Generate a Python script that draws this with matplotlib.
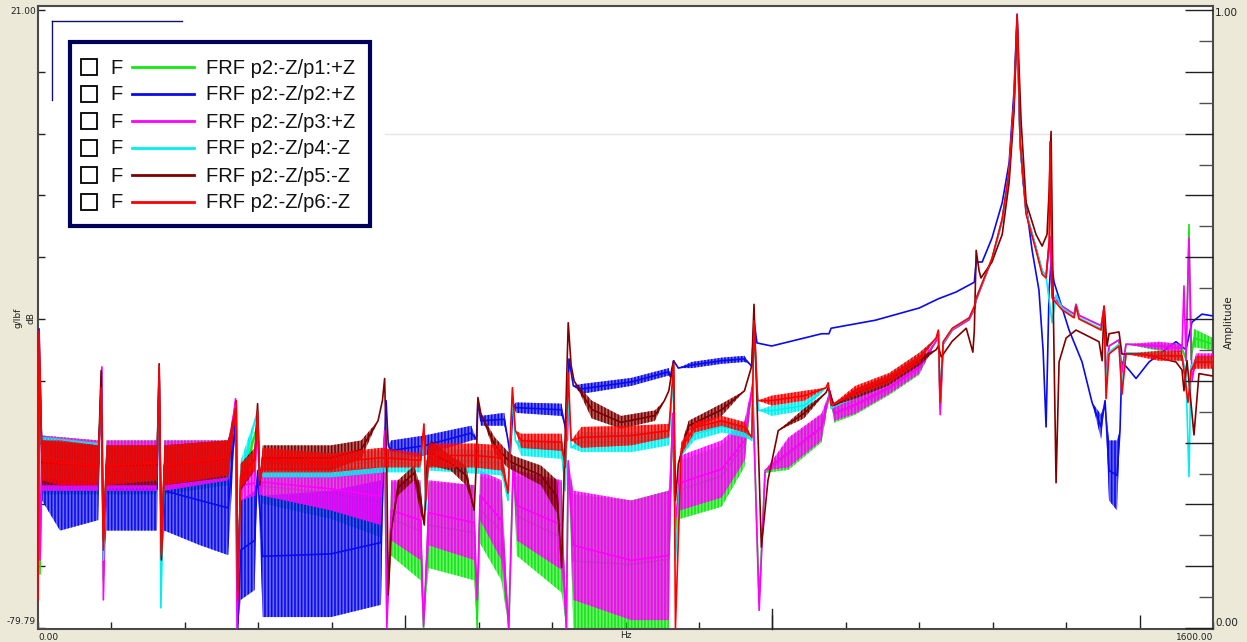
import matplotlib
matplotlib.use("Agg")
import matplotlib.pyplot as plt
from matplotlib.patches import Rectangle
from matplotlib.colors import to_rgba

W, H = 1247, 642

series_names = ["FRF p2:-Z/p1:+Z", "FRF p2:-Z/p2:+Z", "FRF p2:-Z/p3:+Z",
                "FRF p2:-Z/p4:-Z", "FRF p2:-Z/p5:-Z", "FRF p2:-Z/p6:-Z"]
series_colors = ["#12E812", "#0A0AF0", "#FF00FF", "#00F0F0", "#800000", "#FF0000"]

# each point: (Hz, upper dB, lower dB) - the band is the noise spread
p1_pts = [
    (0, -62.0, -62.0), (1.4, -36.0, -36.0), (2.7, -71.0, -71.0), (5.5, -48.4, -58.0),
    (82, -49.2, -58.0), (87, -38.0, -38.0), (89, -72.0, -72.0), (93, -49.2, -58.0),
    (162, -49.2, -58.0), (165, -38.5, -38.5), (168, -66.0, -66.0), (172, -49.2, -58.0),
    (259, -49.2, -56.5), (269, -43.0, -43.0), (271, -77.0, -77.0), (276, -54.1, -60.0),
    (299, -46.5, -46.5), (302, -58.0, -58.0), (306, -53.8, -59.5), (399, -53.6, -62.0),
    (467, -53.6, -65.0), (472, -48.5, -48.5), (475, -78.0, -78.0), (481, -56.0, -68.0),
    (521, -56.0, -72.0), (525, -79.8, -79.8), (532, -56.0, -70.0), (594, -56.5, -72.0),
    (598, -79.8, -79.8), (602, -55.0, -66.0), (631, -56.0, -72.0), (641, -79.8, -79.8),
    (647, -54.0, -54.0), (652, -55.0, -68.0), (713, -56.0, -74.0), (719.5, -79.8, -79.8),
    (722, -53.0, -53.0), (729, -58.0, -79.8), (808, -59.0, -79.8), (859, -57.4, -79.8),
    (864, -45.5, -45.5), (868, -64.0, -64.0), (874, -52.5, -62.0), (931, -50.0, -60.0),
    (962, -46.5, -53.5), (973, -40.5, -40.5), (982, -75.5, -75.5), (990, -54.5, -54.5),
    (1022, -49.0, -54.0), (1067, -45.0, -49.5), (1078.5, -41.5, -41.5), (1084, -43.8, -46.3),
    (1113, -42.2, -45.0), (1159, -39.8, -41.8), (1200, -36.4, -38.5), (1223, -33.0, -33.0),
    (1226, -31.5, -31.5), (1228.5, -44.0, -44.0), (1232.6, -33.5, -33.5), (1245, -31.2, -31.2),
    (1268, -29.5, -29.5), (1275, -27.8, -27.8), (1277.5, -26.3, -26.3), (1299, -19.7, -19.7),
    (1313, -13.3, -13.3), (1322.4, -5.5, -5.5), (1329, 5.5, 5.5), (1333.3, 19.0, 19.0),
    (1337.4, -1.0, -1.0), (1345.5, -12.0, -12.0), (1359, -17.8, -17.8), (1367.3, -21.6, -21.6),
    (1372.7, -22.4, -22.4), (1378, -16.0, -16.0), (1381, -25.6, -25.6), (1394.5, -27.3, -27.3),
    (1410.8, -28.6, -28.6), (1413.5, -27.0, -27.0), (1417.6, -28.8, -28.8), (1447.6, -30.5, -30.5),
    (1451.7, -27.5, -27.5), (1454.4, -39.0, -39.0), (1458.4, -33.8, -33.8), (1472, -32.8, -32.8),
    (1476, -38.0, -38.0), (1481.6, -33.5, -33.5), (1526.5, -33.3, -34.6), (1557.8, -33.5, -34.8),
    (1563.2, -36.0, -36.0), (1567.3, -14.0, -14.0), (1570, -36.0, -36.0), (1574.1, -31.0, -34.0),
    (1600, -32.5, -34.5),
]

p2_pts = [
    (0, -73.6, -73.6), (1.4, -31.0, -31.0), (5.5, -48.4, -59.0), (30, -49.2, -63.9),
    (82, -50.0, -62.2), (86, -39.5, -39.5), (89, -68.7, -68.7), (93, -50.4, -63.9),
    (162, -50.4, -63.9), (165, -38.7, -38.7), (168, -68.7, -68.7), (172, -50.9, -63.9),
    (221, -51.7, -66.3), (259, -52.5, -67.9), (269, -46.0, -46.0), (272, -79.8, -79.8),
    (276, -59.0, -75.2), (295, -57.4, -73.6), (299, -54.1, -54.1), (306, -58.2, -78.0),
    (399, -57.4, -78.0), (467, -55.7, -76.0), (471, -52.5, -52.5), (474, -42.7, -42.7),
    (477, -50.0, -50.0), (481, -49.2, -52.5), (526, -48.4, -51.7), (590, -46.8, -49.2),
    (597, -49.0, -49.0), (599, -42.7, -42.7), (603, -45.2, -46.8), (635, -44.7, -46.8),
    (640, -49.2, -49.2), (643, -51.7, -51.7), (647, -43.5, -43.5), (651, -43.0, -44.7),
    (713, -43.2, -45.2), (718, -47.1, -47.1), (720.8, -49.2, -49.2), (723, -35.9, -35.9),
    (729, -40.3, -40.3), (740, -40.0, -41.6), (808, -39.0, -40.3), (859, -37.4, -38.6),
    (861, -38.8, -38.8), (865.5, -36.2, -36.2), (872, -37.4, -37.4), (890, -36.4, -37.4),
    (931, -35.7, -36.7), (962, -35.4, -36.4), (969, -36.7, -36.7), (972, -37.2, -37.2),
    (975, -29.7, -29.7), (979, -33.3, -33.3), (999, -33.8, -33.8), (1067, -31.8, -31.8),
    (1077, -31.8, -31.8), (1080, -30.9, -30.9), (1140, -29.6, -29.6), (1200, -27.6, -27.6),
    (1226, -26.1, -26.1), (1250, -25.0, -25.0), (1275, -23.4, -23.4), (1277.5, -20.1, -20.1),
    (1285.7, -20.1, -20.1), (1299, -16.2, -16.2), (1313, -10.4, -10.4), (1322.4, -3.9, -3.9),
    (1329, 7.7, 7.7), (1333.3, 20.3, 20.3), (1337.4, -0.5, -0.5), (1341.4, -7.1, -7.1),
    (1353.7, -18.2, -18.2), (1363, -24.7, -24.7), (1368.7, -34.6, -34.6), (1372.7, -47.0, -47.0),
    (1376.8, -24.8, -24.8), (1379.5, -20.0, -20.0), (1383.6, -23.4, -23.4), (1404, -31.2, -31.2),
    (1421.7, -36.4, -36.4), (1435.3, -43.0, -43.0), (1447.6, -45.0, -49.0), (1453, -42.7, -42.7),
    (1458.4, -49.2, -59.0), (1469.3, -49.2, -60.6), (1473.4, -47.5, -47.5), (1476, -36.4, -36.4),
    (1485.7, -37.7, -37.7), (1495.2, -39.1, -39.1), (1512.9, -36.4, -36.4), (1549.6, -33.1, -33.1),
    (1563.2, -34.4, -34.4), (1571.4, -29.9, -29.9), (1585, -28.6, -28.6), (1600, -28.9, -28.9),
]

p3_pts = [
    (0, -59.0, -59.0), (1.4, -36.2, -36.2), (2.7, -68.7, -68.7), (5.5, -48.4, -57.4),
    (82, -49.2, -57.4), (87, -37.2, -37.2), (89, -75.2, -75.2), (93, -49.2, -57.4),
    (162, -49.2, -57.4), (165, -38.7, -38.7), (168, -67.1, -67.1), (172, -49.2, -57.4),
    (259, -49.2, -55.7), (269, -42.4, -42.4), (271, -79.8, -79.8), (276, -54.1, -59.0),
    (295, -54.1, -58.2), (299, -46.0, -46.0), (302, -58.0, -58.0), (306, -53.8, -58.2),
    (399, -53.6, -60.6), (467, -53.6, -63.0), (472, -47.6, -47.6), (475, -79.8, -79.8),
    (481, -55.7, -65.5), (521, -55.7, -68.7), (525, -79.5, -79.5), (532, -55.7, -66.3),
    (594, -56.5, -68.7), (598, -75.2, -75.2), (602, -54.1, -62.2), (631, -55.7, -68.7),
    (641, -79.8, -79.8), (647, -53.3, -53.3), (652, -54.1, -65.5), (713, -55.7, -70.3),
    (719.5, -79.8, -79.8), (722, -52.5, -52.5), (729, -57.4, -75.2), (808, -59.0, -78.5),
    (859, -57.4, -78.5), (864, -44.8, -44.8), (868, -62.2, -62.2), (874, -51.7, -60.6),
    (931, -49.2, -58.5), (962, -46.0, -52.5), (973, -40.0, -40.0), (982, -76.9, -76.9),
    (990, -54.1, -54.1), (1022, -48.7, -53.6), (1067, -44.8, -49.2), (1078.5, -41.1, -41.1),
    (1084, -43.5, -46.0), (1113, -41.9, -44.8), (1159, -39.5, -41.6), (1200, -36.2, -38.3),
    (1223, -33.0, -33.0), (1226, -31.5, -31.5), (1228.5, -45.0, -45.0), (1232.6, -33.5, -33.5),
    (1245, -31.2, -31.2), (1268, -29.5, -29.5), (1275, -27.8, -27.8), (1277.5, -26.3, -26.3),
    (1299, -19.7, -19.7), (1313, -13.3, -13.3), (1322.4, -5.5, -5.5), (1329, 5.5, 5.5),
    (1333.3, 19.0, 19.0), (1337.4, -1.0, -1.0), (1345.5, -12.0, -12.0), (1359, -17.8, -17.8),
    (1367.3, -21.6, -21.6), (1372.7, -22.4, -22.4), (1378, -16.0, -16.0), (1381, -25.6, -25.6),
    (1394.5, -27.3, -27.3), (1410.8, -28.6, -28.6), (1413.5, -27.0, -27.0), (1417.6, -28.8, -28.8),
    (1447.6, -30.5, -30.5), (1451.7, -27.5, -27.5), (1454.4, -39.0, -39.0), (1458.4, -33.8, -33.8),
    (1472, -32.8, -32.8), (1476, -38.0, -38.0), (1481.6, -33.5, -33.5), (1526.5, -33.1, -34.4),
    (1557.8, -33.5, -34.8), (1560.5, -24.0, -24.0), (1563.2, -36.2, -36.2), (1567.3, -16.2, -16.2),
    (1571.4, -39.5, -39.5), (1576.8, -35.0, -36.5), (1600, -35.0, -36.5),
]

p4_pts = [
    (0, -68.7, -68.7), (1.4, -34.6, -34.6), (5.5, -48.6, -55.4), (82, -49.6, -56.0),
    (86, -38.7, -38.7), (89, -68.7, -68.7), (93, -50.0, -56.0), (162, -50.0, -56.0),
    (165, -37.8, -37.8), (167.3, -76.5, -76.5), (172, -50.0, -56.0), (259, -49.6, -55.2),
    (270, -43.5, -43.5), (272, -73.6, -73.6), (276, -52.5, -57.4), (299, -44.3, -44.3),
    (302, -55.0, -55.0), (306, -50.6, -55.2), (399, -51.2, -55.2), (472, -50.8, -54.4),
    (521, -51.9, -54.4), (525.6, -47.6, -47.6), (528, -60.6, -60.6), (532, -50.4, -54.1),
    (631, -50.9, -54.9), (640, -59.0, -59.0), (646, -41.9, -41.9), (650, -49.2, -49.2),
    (658, -49.2, -51.7), (713, -49.2, -52.2), (718, -57.4, -57.4), (722, -41.1, -41.1),
    (726, -50.4, -50.4), (740, -47.8, -51.1), (808, -47.8, -51.1), (859, -47.6, -50.0),
    (865.5, -38.7, -38.7), (868, -68.7, -68.7), (876, -51.7, -51.7), (894, -47.1, -49.2),
    (931, -46.0, -47.9), (962, -46.5, -48.7), (972, -49.2, -49.2), (975, -31.3, -31.3),
    (981, -44.3, -44.3), (999, -43.5, -45.2), (1044, -42.7, -44.3), (1076, -40.3, -40.3),
    (1080, -44.0, -44.0), (1112, -40.8, -42.4), (1157, -38.5, -40.1), (1200, -34.9, -36.5),
    (1223, -32.5, -32.5), (1226, -31.7, -31.7), (1228.5, -42.0, -42.0), (1232.6, -33.3, -33.3),
    (1245, -31.0, -31.0), (1268, -29.2, -29.2), (1275, -27.5, -27.5), (1277.5, -26.0, -26.0),
    (1299, -19.7, -19.7), (1313, -13.2, -13.2), (1322.4, -5.5, -5.5), (1329, 5.5, 5.5),
    (1333.3, 19.0, 19.0), (1337.4, -1.0, -1.0), (1345.5, -12.0, -12.0), (1359, -17.8, -17.8),
    (1367.3, -21.5, -21.5), (1372.7, -22.5, -22.5), (1381, -30.0, -30.0), (1386.3, -25.5, -25.5),
    (1394.5, -27.6, -27.6), (1410.8, -29.0, -29.0), (1413.5, -27.5, -27.5), (1417.6, -29.2, -29.2),
    (1447.6, -31.0, -31.0), (1451.7, -27.8, -27.8), (1454.4, -40.0, -40.0), (1458.4, -34.8, -34.8),
    (1472, -33.5, -33.5), (1476, -40.5, -40.5), (1481.6, -34.9, -34.9), (1526.5, -34.6, -35.8),
    (1557.8, -35.0, -36.2), (1563, -38.0, -38.0), (1567.3, -55.1, -55.1), (1570, -37.0, -37.0),
    (1576.8, -35.6, -37.0), (1600, -35.6, -37.0),
]

p5_pts = [
    (0, -68.7, -68.7), (1.4, -33.0, -33.0), (5.5, -49.2, -56.5), (82, -50.0, -56.5),
    (86, -37.8, -37.8), (89, -65.5, -65.5), (93, -50.0, -56.5), (162, -50.0, -56.5),
    (165, -36.7, -36.7), (168, -68.7, -68.7), (172, -50.0, -56.5), (259, -49.2, -55.2),
    (268, -44.3, -46.0), (270, -43.5, -43.5), (272, -73.6, -73.6), (276, -53.0, -57.4),
    (295, -50.4, -54.1), (299, -43.2, -43.2), (302, -56.5, -56.5), (306, -50.0, -54.1),
    (399, -50.0, -54.1), (440, -49.2, -52.2), (463, -46.0, -46.0), (469, -42.7, -42.7),
    (472, -39.1, -39.1), (475, -54.1, -54.1), (477, -74.4, -74.4), (481, -63.9, -63.9),
    (490, -55.7, -58.2), (512, -53.3, -55.7), (521, -56.9, -61.1), (526, -63.0, -63.0),
    (530, -50.9, -54.1), (535, -49.2, -53.3), (562, -51.7, -54.1), (583, -53.3, -56.5),
    (594, -60.6, -60.6), (597, -52.5, -52.5), (599, -42.2, -42.2), (603, -44.8, -44.8),
    (622, -48.7, -51.3), (639, -50.9, -53.6), (647, -51.7, -54.1), (685, -53.3, -56.5),
    (707, -55.7, -61.1), (713, -69.9, -69.9), (718, -47.6, -47.6), (722, -30.0, -30.0),
    (726, -37.0, -37.0), (730, -39.5, -39.5), (754, -42.7, -45.6), (794, -45.2, -47.3),
    (840, -44.3, -46.0), (853, -42.7, -42.7), (859, -41.1, -41.1), (865.5, -36.2, -36.2),
    (868, -59.0, -59.0), (872, -53.0, -53.0), (879, -48.7, -50.9), (886, -46.0, -47.6),
    (931, -43.2, -45.2), (962, -41.1, -41.1), (972, -37.0, -37.0), (975, -27.0, -27.0),
    (979, -42.7, -42.7), (985, -66.6, -66.6), (994, -55.7, -55.7), (1008, -47.6, -47.6),
    (1043, -44.0, -45.6), (1073, -41.4, -41.4), (1076, -40.6, -40.6), (1084, -43.5, -43.5),
    (1112, -40.8, -42.4), (1157, -38.7, -40.3), (1200, -35.4, -37.0), (1223, -34.4, -34.4),
    (1226, -33.8, -33.8), (1230, -35.6, -35.6), (1245, -33.0, -33.0), (1264, -30.9, -30.9),
    (1273, -34.8, -34.8), (1275, -31.3, -31.3), (1277.5, -18.2, -18.2), (1281.6, -21.6, -21.6),
    (1284, -22.7, -22.7), (1299, -20.1, -20.1), (1313, -15.6, -15.6), (1322.4, -7.1, -7.1),
    (1329, 4.4, 4.4), (1333.3, 19.7, 19.7), (1338.7, 2.8, 2.8), (1345.5, -10.4, -10.4),
    (1359, -15.6, -15.6), (1367.3, -17.5, -17.5), (1374, -15.6, -15.6), (1376.8, -8.6, -8.6),
    (1379.5, 1.2, 1.2), (1382, -23.4, -23.4), (1386.3, -56.1, -56.1), (1390.4, -36.4, -36.4),
    (1400, -32.5, -32.5), (1413.5, -31.2, -31.2), (1444.8, -33.1, -33.1), (1449, -36.2, -36.2),
    (1451.7, -27.3, -27.3), (1455.7, -33.8, -33.8), (1458.4, -31.8, -31.8), (1472, -31.5, -31.5),
    (1476, -35.1, -35.1), (1503.4, -35.1, -35.1), (1549.6, -36.4, -36.4), (1557.8, -37.7, -37.7),
    (1560.5, -41.1, -41.1), (1564.6, -36.2, -36.2), (1574.1, -48.3, -48.3), (1580.9, -38.3, -38.3),
    (1600, -38.7, -38.7),
]

p6_pts = [
    (0, -75.2, -75.2), (1.4, -31.3, -31.3), (5.5, -49.2, -55.7), (30, -49.2, -56.5),
    (82, -50.0, -56.5), (86, -40.6, -40.6), (89, -67.1, -67.1), (93, -50.0, -56.5),
    (162, -50.0, -55.7), (165, -37.0, -37.0), (168, -67.9, -67.9), (172, -50.0, -56.5),
    (259, -49.2, -54.9), (268, -44.3, -46.0), (270, -42.7, -42.7), (272, -75.2, -75.2),
    (276, -53.0, -56.9), (295, -50.9, -54.1), (299, -44.3, -44.3), (302, -55.7, -55.7),
    (306, -50.4, -54.4), (399, -51.3, -54.4), (467, -50.4, -53.6), (521, -51.3, -53.6),
    (525.6, -46.5, -46.5), (528, -59.0, -59.0), (532, -49.7, -53.6), (594, -49.7, -53.6),
    (631, -50.0, -54.1), (640, -57.8, -57.8), (646, -40.6, -40.6), (650, -47.6, -47.6),
    (658, -48.1, -50.4), (713, -48.1, -50.9), (718, -53.6, -53.6), (722, -38.2, -38.2),
    (726, -49.2, -49.2), (740, -47.0, -50.4), (808, -46.8, -50.0), (859, -46.5, -48.7),
    (865.5, -36.7, -36.7), (868, -79.8, -79.8), (876, -49.5, -51.5), (894, -46.2, -47.9),
    (931, -45.2, -46.8), (962, -46.2, -47.9), (972, -48.7, -48.7), (975, -29.7, -29.7),
    (980, -42.7, -42.7), (999, -41.9, -43.5), (1044, -41.1, -42.7), (1073, -40.6, -40.6),
    (1076, -39.8, -39.8), (1080, -43.5, -43.5), (1113, -40.3, -41.9), (1159, -38.2, -39.8),
    (1200, -34.9, -36.5), (1223, -32.5, -32.5), (1226, -31.2, -31.2), (1228.5, -43.0, -43.0),
    (1232.6, -33.1, -33.1), (1245, -30.9, -30.9), (1268, -29.2, -29.2), (1275, -27.3, -27.3),
    (1277.5, -26.0, -26.0), (1299, -19.5, -19.5), (1313, -13.0, -13.0), (1322.4, -5.2, -5.2),
    (1329, 6.0, 6.0), (1333.3, 20.3, 20.3), (1337.4, -0.6, -0.6), (1345.5, -12.3, -12.3),
    (1359, -18.2, -18.2), (1367.3, -22.1, -22.1), (1372.7, -22.7, -22.7), (1376.8, -16.7, -16.7),
    (1378, -0.5, -0.5), (1381, -26.0, -26.0), (1394.5, -27.9, -27.9), (1410.8, -29.2, -29.2),
    (1413.5, -27.3, -27.3), (1417.6, -29.4, -29.4), (1447.6, -31.2, -31.2), (1451.7, -27.3, -27.3),
    (1454.4, -42.4, -42.4), (1458.4, -35.1, -35.1), (1472, -33.8, -33.8), (1476, -41.7, -41.7),
    (1481.6, -35.1, -35.1), (1526.5, -34.6, -36.2), (1557.8, -34.6, -36.2), (1566, -43.0, -43.0),
    (1570, -37.8, -37.8), (1576.8, -35.4, -37.5), (1600, -35.4, -37.5),
]

all_pts = [p1_pts, p2_pts, p3_pts, p4_pts, p5_pts, p6_pts]

db_min, db_max = -79.79, 21.00
freq_max = 1600.0

plt.rcParams["hatch.linewidth"] = 1.2


def px(x, y):
    # pixel position -> figure fraction
    return x / W, 1 - y / H


fig = plt.figure(figsize=(W / 100, H / 100), dpi=100)
fig.patch.set_facecolor("#ECE9D8")

ax = fig.add_axes([38 / W, (H - 629) / H, (1213 - 38) / W, (629 - 6) / H])
ax.set_facecolor("white")
ax.set_xlim(0, freq_max)
ax.set_ylim(-79.95, 21.65)

# light gray reference line (Amplitude 0.8)
ref_amp = 0.8
ax.axhline(db_min + ref_amp * (db_max - db_min), xmin=0.295, xmax=1,
           color="#E4E4E4", lw=1, zorder=1)

for i, pts in enumerate(all_pts):
    f = [p[0] for p in pts]
    hi = [p[1] for p in pts]
    lo = [p[2] for p in pts]
    mid = [(a + b) / 2 for a, b in zip(hi, lo)]
    c = series_colors[i]
    # noisy band: light fill with dense vertical hatch
    ax.fill_between(f, lo, hi, facecolor=to_rgba(c, 0.6), edgecolor=c,
                    hatch="|||||", lw=0, zorder=2 + i)
    ax.plot(f, mid, color=c, lw=1.2, zorder=2 + i)

for s in ax.spines.values():
    s.set_color("#4A4A4A")
    s.set_linewidth(1.5)

ax.set_yticks([db_min + k * (db_max - db_min) / 10 for k in range(11)])
ax.set_xticks([500, 1000, 1500])
ax.set_xticks(range(0, 1601, 100), minor=True)
ax.tick_params(axis="y", direction="in", length=5, width=1, color="#202020",
               labelleft=False)
ax.tick_params(axis="x", which="major", direction="in", length=10, width=1,
               color="#202020", labelbottom=False)
ax.tick_params(axis="x", which="minor", direction="in", length=5, width=1,
               color="#202020", labelbottom=False)
# the 1000 Hz tick is drawn taller
ax.plot([1000, 1000], [0, 20 / 623], color="#202020", lw=1,
        transform=ax.get_xaxis_transform(), zorder=20, clip_on=False)

ax2 = ax.twinx()
ax2.set_ylim(-0.0016, 1.0065)
ax2.set_yticks([k / 10 for k in range(11)])
ax2.set_yticks([k / 20 for k in range(1, 20, 2)], minor=True)
ax2.tick_params(axis="y", which="major", direction="in", length=20, width=1,
                color="#202020", labelright=False)
ax2.tick_params(axis="y", which="minor", direction="in", length=10, width=1,
                color="#505050", labelright=False)
for s in ax2.spines.values():
    s.set_visible(False)

small = dict(fontsize=6.5, family="DejaVu Sans", color="#202020")
fig.text(*px(36, 12), "21.00", ha="right", va="center", **small)
fig.text(*px(36, 622), "-79.79", ha="right", va="center", **small)
fig.text(*px(18, 318), "g/lbf", ha="center", va="center", rotation=90, **small)
fig.text(*px(31, 318), "dB", ha="center", va="center", rotation=90, **small)
fig.text(*px(38, 637), "0.00", ha="left", va="center", **small)
fig.text(*px(1213, 637), "1600.00", ha="right", va="center", **small)
fig.text(*px(626, 636), "Hz", ha="center", va="center", **small)
fig.text(*px(1215, 13), "1.00", ha="left", va="center", fontsize=7.5, color="#202020")
fig.text(*px(1215, 623), "0.00", ha="left", va="center", fontsize=7.5, color="#202020")
fig.text(*px(1229, 322), "Amplitude", ha="center", va="center", rotation=90,
         fontsize=7.5, color="#202020")

# overlay in pixel coordinates for the legend box and the corner marks
ov = fig.add_axes([0, 0, 1, 1])
ov.set_xlim(0, W)
ov.set_ylim(H, 0)
ov.axis("off")
ov.patch.set_visible(False)

ov.plot([52, 182], [21, 21], color="#101070", lw=1)
ov.plot([52, 52], [21, 100], color="#101070", lw=1)

ov.add_patch(Rectangle((70, 42), 300, 184, facecolor="white", edgecolor="#00005A", lw=3))
row_y = [67, 94, 121, 148, 175, 202]
for i, name in enumerate(series_names):
    y = row_y[i]
    ov.add_patch(Rectangle((81, y - 8), 16, 16, facecolor="white", edgecolor="black", lw=1.3))
    ov.text(110, y + 1, "F", ha="left", va="center", fontsize=14.5,
            family="Liberation Sans", color="#111111")
    ov.plot([132, 194], [y, y], color=series_colors[i], lw=2)
    ov.text(206, y + 1, name, ha="left", va="center", fontsize=14.5,
            family="Liberation Sans", color="#111111")

fig.savefig("out.png", dpi=100, facecolor=fig.get_facecolor())
